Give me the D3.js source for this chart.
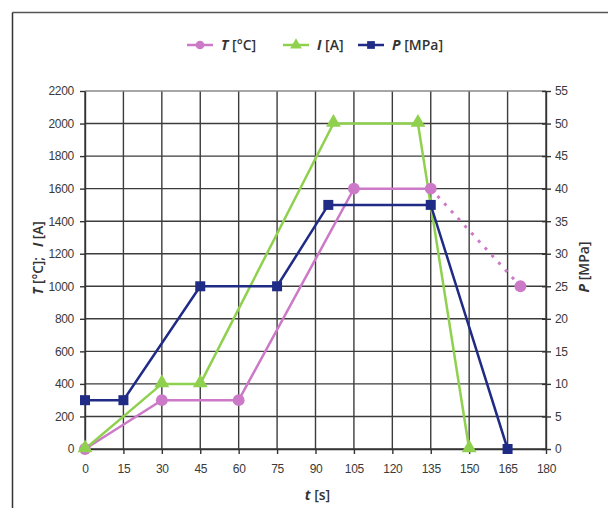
<!DOCTYPE html>
<html>
<head>
<meta charset="utf-8">
<script src="https://cdn.jsdelivr.net/npm/d3@7"></script>
<style>
  body { margin: 0; background: #fff; overflow: hidden; }
  svg { display: block; }
  .tick text { font-family: "Liberation Sans", Arial, sans-serif; font-size: 12px; letter-spacing: -0.3px; fill: #3a3a3a; }
  .lbl { font-family: "Open Sans", "Liberation Sans", sans-serif; font-size: 14px; font-weight: 600; fill: #333; }
</style>
</head>
<body>
<svg class="visSVG"></svg>
<script>
const svgWidth = 608;
const svgHeight = 508;

// data
var tempTime = [0, 30, 60, 105, 135, 170];
var tempVals = [0, 300, 300, 1600, 1600, 1000];
var curTime = [0, 30, 45, 97, 130, 150];
var curVals = [0, 400, 400, 2000, 2000, 0];
var presTime = [0, 15, 45, 75, 95, 135, 165];
var presVals = [7.5, 7.5, 25, 25, 37.5, 37.5, 0];

var xTicks = d3.range(0, 181, 15);
var leftTicks = d3.range(0, 2201, 200);
var rightTicks = d3.range(0, 56, 5);

var colours = { T: "#cc79c8", I: "#8fd14f", P: "#1f2b85" };

var margin = { top: 91, right: 62, bottom: 59, left: 85 };
var innerWidth = svgWidth - margin.left - margin.right;
var innerHeight = svgHeight - margin.top - margin.bottom;

const svg = d3.select('.visSVG')
    .attr("width", svgWidth)
    .attr("height", svgHeight);

// outer frame: only top and left edges show
svg.append("line").attr("x1", 12.5).attr("x2", svgWidth).attr("y1", 12.5).attr("y2", 12.5)
    .attr("stroke", "#555").attr("stroke-width", 1.5);
svg.append("line").attr("x1", 12.5).attr("x2", 12.5).attr("y1", 12.5).attr("y2", svgHeight)
    .attr("stroke", "#333").attr("stroke-width", 1.5);

var graph = svg.append("g")
    .attr("transform", "translate(" + margin.left + "," + margin.top + ")");

const xScale = d3.scaleLinear().domain([0, 180]).range([0, innerWidth]);
const yLeft = d3.scaleLinear().domain([0, 2200]).range([innerHeight, 0]);
const yRight = d3.scaleLinear().domain([0, 55]).range([innerHeight, 0]);

// GRID
var grid = graph.append("g").attr("stroke", "#3c3c3c").attr("stroke-width", 1.4);
xTicks.forEach(function (t) {
    grid.append("line")
        .attr("x1", xScale(t)).attr("x2", xScale(t))
        .attr("y1", 0).attr("y2", innerHeight);
});
leftTicks.forEach(function (v) {
    grid.append("line")
        .attr("x1", 0).attr("x2", innerWidth)
        .attr("y1", yLeft(v)).attr("y2", yLeft(v))
        .attr("stroke", v == 2200 ? "#888" : null);
});

// AXES
function styleAxis(g) {
    g.select(".domain").attr("stroke", "#333").attr("stroke-width", 1.4);
    g.selectAll(".tick line").attr("stroke", "#333").attr("stroke-width", 1.4);
}

graph.append("g")
    .call(d3.axisLeft(yLeft).tickValues(leftTicks).tickFormat(d3.format("d")).tickSize(5).tickPadding(6).tickSizeOuter(0))
    .call(styleAxis);

graph.append("g")
    .attr("transform", "translate(" + innerWidth + ",0)")
    .call(d3.axisRight(yRight).tickValues(rightTicks).tickFormat(d3.format("d")).tickSize(5).tickPadding(4).tickSizeOuter(0))
    .call(styleAxis)
    .selectAll(".tick line").attr("x1", -4);

graph.append("g")
    .attr("transform", "translate(0," + innerHeight + ")")
    .call(d3.axisBottom(xScale).tickValues(xTicks).tickFormat(d3.format("d")).tickSize(5).tickPadding(10).tickSizeOuter(0))
    .call(styleAxis);

// AXIS LABELS
var yLab = svg.append("text")
    .attr("class", "lbl")
    .attr("transform", "translate(43," + (margin.top + innerHeight / 2 - 12) + ") rotate(-90)")
    .attr("text-anchor", "middle")
    .style("font-size", "13.5px");
yLab.append("tspan").attr("font-style", "italic").attr("font-weight", 700).text("T");
yLab.append("tspan").text(" [°C];");
yLab.append("tspan").attr("dx", 10).attr("font-style", "italic").attr("font-weight", 700).text("I");
yLab.append("tspan").text(" [A]");

var pLab = svg.append("text")
    .attr("class", "lbl")
    .attr("transform", "translate(589," + (margin.top + innerHeight / 2 - 3) + ") rotate(-90)")
    .attr("text-anchor", "middle");
pLab.append("tspan").attr("font-style", "italic").attr("font-weight", 700).text("P");
pLab.append("tspan").text(" [MPa]");

var tLab = svg.append("text")
    .attr("class", "lbl")
    .attr("x", margin.left + xScale(90) + 2)
    .attr("y", 500)
    .attr("text-anchor", "middle");
tLab.append("tspan").attr("font-style", "italic").attr("font-weight", 700).text("t");
tLab.append("tspan").text(" [s]");

// LINES
var lineLeft = d3.line().x(function (d) { return xScale(d[0]); }).y(function (d) { return yLeft(d[1]); });
var lineRight = d3.line().x(function (d) { return xScale(d[0]); }).y(function (d) { return yRight(d[1]); });

var tempData = d3.zip(tempTime, tempVals);
var curData = d3.zip(curTime, curVals);
var presData = d3.zip(presTime, presVals);

graph.append("path").datum(tempData.slice(0, 5))
    .attr("d", lineLeft).attr("fill", "none")
    .attr("stroke", colours.T).attr("stroke-width", 2.5);
graph.append("path").datum(tempData.slice(4))
    .attr("d", lineLeft).attr("fill", "none")
    .attr("stroke", colours.T).attr("stroke-width", 3)
    .attr("stroke-dasharray", "3,7");

graph.append("path").datum(curData)
    .attr("d", lineLeft).attr("fill", "none")
    .attr("stroke", colours.I).attr("stroke-width", 2.5);

graph.append("path").datum(presData)
    .attr("d", lineRight).attr("fill", "none")
    .attr("stroke", colours.P).attr("stroke-width", 2.5);

// MARKERS
var circ = d3.symbol().type(d3.symbolCircle).size(110);
var tri = d3.symbol().type(d3.symbolTriangle).size(95);
var sq = d3.symbol().type(d3.symbolSquare).size(100);

graph.append("g").selectAll("path").data(tempData).enter().append("path")
    .attr("d", circ)
    .attr("transform", function (d) { return "translate(" + xScale(d[0]) + "," + yLeft(d[1]) + ")"; })
    .attr("fill", colours.T);

graph.append("g").selectAll("path").data(curData).enter().append("path")
    .attr("d", tri)
    .attr("transform", function (d) { return "translate(" + xScale(d[0]) + "," + (yLeft(d[1]) - 1) + ")"; })
    .attr("fill", colours.I);

graph.append("g").selectAll("path").data(presData).enter().append("path")
    .attr("d", sq)
    .attr("transform", function (d) { return "translate(" + xScale(d[0]) + "," + yRight(d[1]) + ")"; })
    .attr("fill", colours.P);

// LEGEND
var legendItems = [
    { x: 187, sym: circ, color: colours.T, name: "T", unit: " [°C]" },
    { x: 283, sym: tri, color: colours.I, name: "I", unit: " [A]" },
    { x: 358, sym: sq, color: colours.P, name: "P", unit: " [MPa]" }
];
var legend = svg.append("g");
legendItems.forEach(function (it) {
    var g = legend.append("g").attr("transform", "translate(" + it.x + ",45)");
    g.append("line").attr("x1", 0).attr("x2", 26).attr("stroke", it.color).attr("stroke-width", 2.5);
    g.append("path").attr("d", it.sym.size(60)).attr("transform", "translate(13,0)").attr("fill", it.color);
    var t = g.append("text").attr("class", "lbl").attr("x", 34).attr("y", 5);
    t.append("tspan").attr("font-style", "italic").attr("font-weight", 700).text(it.name);
    t.append("tspan").text(it.unit);
});
</script>
</body>
</html>
